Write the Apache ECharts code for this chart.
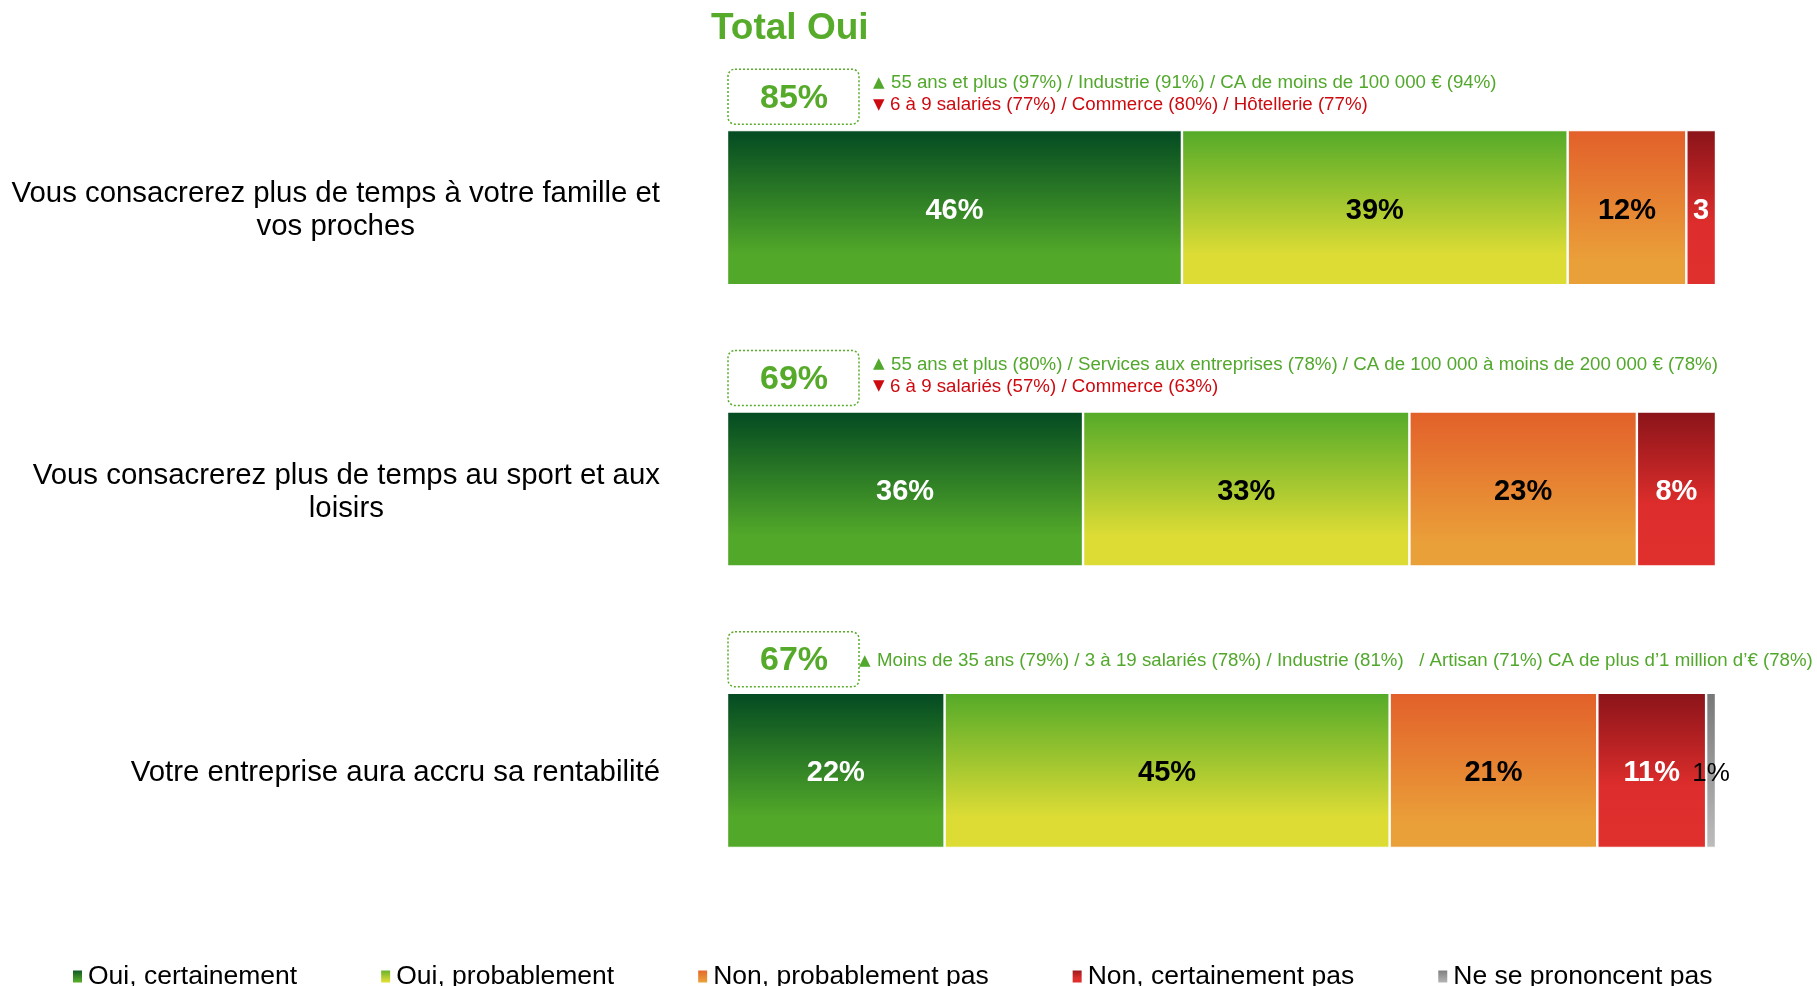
<!DOCTYPE html>
<html>
<head>
<meta charset="utf-8">
<script src="https://cdn.jsdelivr.net/npm/echarts@6/dist/echarts.min.js"></script>
<style>
  html, body { margin: 0; padding: 0; background: #fff; }
  #main { width: 1817px; height: 986px; }
</style>
</head>
<body>
<div id="main"></div>
<script>
// données
var categories = [
  'Vous consacrerez plus de temps à votre famille et\nvos proches',
  'Vous consacrerez plus de temps au sport et aux\nloisirs',
  'Votre entreprise aura accru sa rentabilité'
]
var ouiCertainement = [46, 36, 22]
var ouiProbablement = [39, 33, 45]
var nonProbablementPas = [12, 23, 21]
var nonCertainementPas = [3, 8, 11]
var nspValues = [null, null, 1]
var totalOui = [85, 69, 67]
var plusTexts = [
  '55 ans et plus (97%) / Industrie (91%) / CA de moins de 100 000 € (94%)',
  '55 ans et plus (80%) / Services aux entreprises (78%) / CA de 100 000 à moins de 200 000 € (78%)',
  'Moins de 35 ans (79%) / 3 à 19 salariés (78%) / Industrie (81%)   / Artisan (71%) CA de plus d’1 million d’€ (78%)'
]
var minusTexts = [
  '6 à 9 salariés (77%) / Commerce (80%) / Hôtellerie (77%)',
  '6 à 9 salariés (57%) / Commerce (63%)',
  ''
]

var FONT = "'Liberation Sans', Arial, sans-serif"
var GREEN = '#52a82c'
var RED = '#cc0a10'
var BAR_H = 155

function grad (stops) {
  return {
    type: 'linear', x: 0, y: 0, x2: 0, y2: 1,
    colorStops: stops.map(function (s) { return { offset: s[0], color: s[1] } })
  }
}

var seriesDefs = [
  { name: 'Oui, certainement', data: ouiCertainement, color: grad([[0, '#034a22'], [0.8, '#52a829'], [1, '#52a829']]), text: '#fff' },
  { name: 'Oui, probablement', data: ouiProbablement, color: grad([[0, '#54aa29'], [0.8, '#dcdc35'], [1, '#dcdc35']]), text: '#000' },
  { name: 'Non, probablement pas', data: nonProbablementPas, color: grad([[0, '#e2602a'], [0.85, '#eaa039'], [1, '#eaa039']]), text: '#000' },
  { name: 'Non, certainement pas', data: nonCertainementPas, color: grad([[0, '#8a1419'], [0.6, '#dd2d2c'], [1, '#e0302e']]), text: '#fff' },
  { name: 'Ne se prononcent pas', data: nspValues, color: grad([[0, '#777777'], [1, '#bdbdbd']]), text: '#000', light: true }
]

var series = seriesDefs.map(function (d, k) {
  return {
    name: d.name,
    type: 'bar',
    stack: 'total',
    barWidth: BAR_H,
    data: d.data.map(function (v) {
      var item = { value: v }
      // le 3% est coupé par le bord de la barre
      if (k === 3 && v != null && v < 5) {
        item.label = { width: v * 9.9, overflow: 'truncate', ellipsis: '' }
      }
      return item
    }),
    itemStyle: { color: d.color, borderColor: '#fff', borderWidth: 1.2 },
    label: {
      show: true,
      position: 'inside',
      offset: [0, 3],
      formatter: '{c}%',
      color: d.text,
      fontFamily: FONT,
      fontSize: d.light ? 26 : 29,
      fontWeight: d.light ? 'normal' : 'bold'
    }
  }
})

var chart = echarts.init(document.getElementById('main'))
chart.setOption({
  animation: false,
  backgroundColor: '#fff',
  title: {
    text: 'Total Oui',
    left: 711,
    top: 10,
    padding: 0,
    textStyle: { color: '#56ab2b', fontSize: 37, fontWeight: 'bold', fontFamily: FONT }
  },
  legend: {
    left: 66,
    top: 958,
    itemGap: 82,
    itemWidth: 11,
    itemHeight: 14,
    icon: 'rect',
    textStyle: { fontSize: 26.5, color: '#000', fontFamily: FONT },
    data: seriesDefs.map(function (d) { return d.name })
  },
  grid: { left: 727, right: 101, top: 67, bottom: 75, outerBoundsMode: 'none' },
  xAxis: { type: 'value', min: 0, max: 100, show: false },
  yAxis: {
    type: 'category',
    inverse: true,
    data: categories,
    axisLine: { show: false },
    axisTick: { show: false },
    splitLine: { show: false },
    axisLabel: {
      align: 'right',
      margin: 67,
      padding: [6, 0, 0, 0],
      formatter: function (v) {
        return v.split('\n').map(function (l) { return '{c|' + l + '}' }).join('\n')
      },
      rich: {
        c: { align: 'center', fontSize: 29.4, lineHeight: 33, color: '#000', fontFamily: FONT }
      }
    }
  },
  series: series
})

// encadrés "Total Oui" et sous-populations, placés à partir des axes
var x0 = chart.convertToPixel({ xAxisIndex: 0 }, 0)
var graphics = []
categories.forEach(function (c, i) {
  var top = chart.convertToPixel({ yAxisIndex: 0 }, i) - BAR_H / 2
  graphics.push({
    type: 'rect',
    shape: { x: x0 + 1, y: top - 61, width: 131, height: 55, r: 7 },
    style: { fill: 'none', stroke: '#5aac2a', lineWidth: 1.5, lineDash: [2, 2] }
  })
  graphics.push({
    type: 'text',
    x: x0 + 67,
    y: top - 32,
    style: {
      text: totalOui[i] + '%', align: 'center', verticalAlign: 'middle',
      fontSize: 34, fontWeight: 'bold', fontFamily: FONT, fill: '#55aa2a'
    }
  })
  var hasMinus = minusTexts[i] !== ''
  graphics.push({
    type: 'text',
    x: hasMinus ? x0 + 146 : x0 + 132,
    y: hasMinus ? top - 47 : top - 32,
    style: {
      text: '{t|▲}{g|' + plusTexts[i] + '}',
      verticalAlign: 'middle',
      rich: {
        t: { fontSize: 15, width: 18, fill: GREEN, fontFamily: 'DejaVu Sans' },
        g: { fontSize: 18.7, fill: GREEN, fontFamily: FONT }
      }
    }
  })
  if (hasMinus) {
    graphics.push({
      type: 'text',
      x: x0 + 146,
      y: top - 25,
      style: {
        text: '{t|▼}{r|' + minusTexts[i] + '}',
        verticalAlign: 'middle',
        rich: {
          t: { fontSize: 15, width: 17, fill: RED, fontFamily: 'DejaVu Sans' },
          r: { fontSize: 18.7, fill: RED, fontFamily: FONT }
        }
      }
    })
  }
})
chart.setOption({ graphic: graphics })
</script>
</body>
</html>
